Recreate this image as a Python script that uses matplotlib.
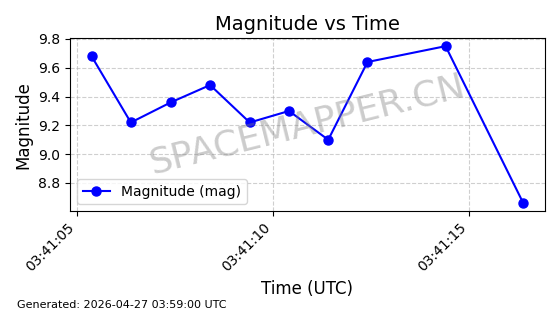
import matplotlib
matplotlib.use("Agg")
import matplotlib.pyplot as plt
import matplotlib.dates as mdates
import pandas as pd

# observation data
times = pd.to_datetime([
    "2026-04-27 03:41:05.38", "2026-04-27 03:41:06.38", "2026-04-27 03:41:07.40",
    "2026-04-27 03:41:08.40", "2026-04-27 03:41:09.41", "2026-04-27 03:41:10.41",
    "2026-04-27 03:41:11.41", "2026-04-27 03:41:12.41", "2026-04-27 03:41:14.40",
    "2026-04-27 03:41:16.38",
])
magnitudes = [9.68, 9.22, 9.36, 9.48, 9.22, 9.30, 9.10, 9.64, 9.75, 8.66]

fig = plt.figure(figsize=(5.6, 3.14), dpi=100)
ax = fig.add_axes([0.125, 0.328, 0.848, 0.55])

ax.plot(times, magnitudes, "o-", color="blue", linewidth=1.5, markersize=6.5,
        label="Magnitude (mag)")

ax.set_title("Magnitude vs Time", fontsize=14)
ax.set_xlabel("Time (UTC)", fontsize=12)
ax.set_ylabel("Magnitude", fontsize=12)
ax.grid(True, linestyle="--", alpha=0.6)
ax.legend(loc="lower left", fontsize=10)

ax.xaxis.set_major_locator(mdates.SecondLocator(bysecond=range(0, 60, 5)))
ax.xaxis.set_major_formatter(mdates.DateFormatter("%H:%M:%S"))
plt.setp(ax.get_xticklabels(), rotation=45, ha="right")

# watermark
ax.text(0.5, 0.5, "SPACEMAPPER.CN", transform=ax.transAxes, fontsize=26,
        color="gray", alpha=0.4, rotation=14, ha="center", va="center")

fig.text(0.03, 0.02, "Generated: 2026-04-27 03:59:00 UTC", fontsize=8)

fig.savefig("out.png", dpi=100)
